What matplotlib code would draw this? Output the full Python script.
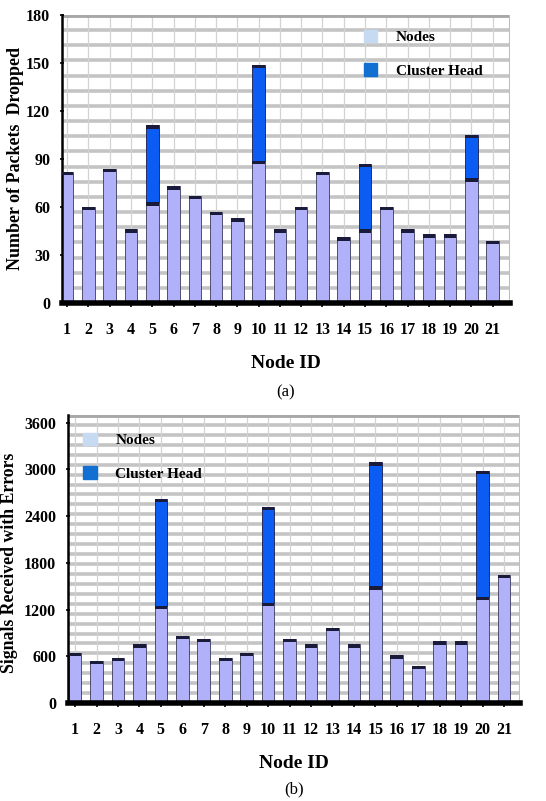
import matplotlib.pyplot as plt
import numpy as np
from matplotlib.patches import Patch

plt.rcParams['font.family'] = ['Liberation Serif', 'DejaVu Serif']

node_ids = list(range(1, 22))

# (a) packets dropped
dropped_nodes = [82, 60, 84, 46, 63, 73, 67, 57, 53, 89, 46, 60, 82, 41, 46, 60, 46, 43, 43, 78, 39]
dropped_head = [0, 0, 0, 0, 48, 0, 0, 0, 0, 60, 0, 0, 0, 0, 41, 0, 0, 0, 0, 27, 0]

# (b) signals received with errors
errors_nodes = [647, 544, 579, 754, 1250, 861, 827, 579, 647, 1290, 827, 754, 969, 754, 1500, 613, 476, 793, 793, 1365, 1650]
errors_head = [0, 0, 0, 0, 1375, 0, 0, 0, 0, 1230, 0, 0, 0, 0, 1590, 0, 0, 0, 0, 1620, 0]

node_color = '#b1b1f9'
head_color = '#0b5cf2'
cap_color = '#1a1a3a'


def draw_panel(ax, nodes, head, ylim, yticks, ngrid, ylabel, ylab_size, ylab_xy, xlim, legend_loc, tag):
    x = np.array(node_ids)
    w = 0.59
    nodes = np.array(nodes, dtype=float)
    head = np.array(head, dtype=float)
    cap = ylim * 0.012
    # grid
    for g in np.linspace(0, ylim, ngrid + 1)[1:]:
        ax.axhline(g, color='#c4c4c4', lw=2.6, zorder=0)
    for xi in x:
        ax.axvline(xi, color='#d3d3d3', lw=0.9, zorder=0)
    ax.axhline(ylim, color='#a8a8a8', lw=3.5, zorder=1)
    ax.bar(x, nodes, w, color=node_color, edgecolor='#3a3a5a', lw=0.6, zorder=2)
    ax.bar(x, [cap] * len(x), w, bottom=nodes - cap, color=cap_color, lw=0, zorder=3)
    hx = x[head > 0]
    hb = nodes[head > 0]
    hh = head[head > 0]
    ax.bar(hx, hh, w, bottom=hb, color=head_color, edgecolor='#1a1a4a', lw=0.6, zorder=2)
    ax.bar(hx, [cap] * len(hx), w, bottom=hb + hh - cap, color=cap_color, lw=0, zorder=3)

    ax.set_xlim(*xlim)
    ax.set_ylim(0, ylim)
    ax.set_xticks(x)
    ax.set_xticklabels([str(i) for i in node_ids], fontweight='bold', fontsize=11.5)
    ax.set_yticks(yticks)
    ax.set_yticklabels([str(t) for t in yticks], fontweight='bold', fontsize=11.5)
    ax.tick_params(axis='x', length=3, width=1.2, pad=11)
    ax.tick_params(axis='y', length=3, width=1.2, pad=7, direction='inout')
    for s in ['top', 'right']:
        ax.spines[s].set_visible(False)
    ax.spines['left'].set_linewidth(1.8)
    ax.spines['bottom'].set_linewidth(4)
    ax.axvline(xlim[1], color='#bdbdbd', lw=1.5, zorder=1)
    ax.set_ylabel(ylabel, fontweight='bold', fontsize=ylab_size)
    ax.yaxis.set_label_coords(*ylab_xy)
    ax.set_xlabel('Node ID', fontweight='bold', fontsize=14, labelpad=12)
    handles = [Patch(color='#c6dbf2', label='Nodes'), Patch(color='#1170d2', label='Cluster Head')]
    ax.legend(handles=handles, loc=legend_loc, frameon=False, handlelength=0.9,
              handleheight=0.9, labelspacing=1.25, handletextpad=1.2,
              prop={'weight': 'bold', 'size': 11})
    ax.text(0.5, tag[1], tag[0], transform=ax.transAxes, ha='center', va='center', fontsize=12)


fig = plt.figure(figsize=(5.46, 8.01), dpi=100)
ax1 = fig.add_axes([0.1136, 0.6217, 0.820, 0.3596])
draw_panel(ax1, dropped_nodes, dropped_head, 180, [0, 30, 60, 90, 120, 150, 180], 19,
           'Number of Packets  Dropped', 13, (-0.085, 0.5), (0.76, 21.8), (0.66, 0.76), ('(a)', -0.31))
ax2 = fig.add_axes([0.1245, 0.1223, 0.828, 0.3596])
draw_panel(ax2, errors_nodes, errors_head, 3700, [0, 600, 1200, 1800, 2400, 3000, 3600], 29,
           'Signals Received with Errors', 12.8, (-0.11, 0.486), (0.67, 21.75), (0.02, 0.75), ('(b)', -0.3))

fig.savefig('out.png', dpi=100)
